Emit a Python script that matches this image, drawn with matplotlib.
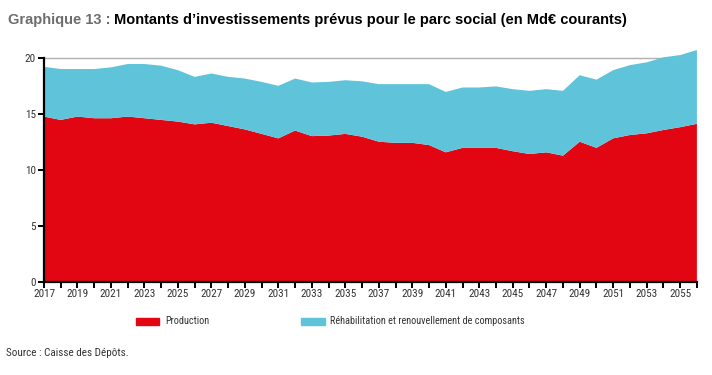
import numpy as np
import matplotlib.pyplot as plt
import matplotlib.patches as mpatches

plt.rcParams['font.family'] = ['Roboto Condensed', 'Archivo Narrow', 'Liberation Sans', 'DejaVu Sans']

years = list(range(2017, 2057))
production = [14.8, 14.5, 14.8, 14.65, 14.65, 14.8, 14.65, 14.5, 14.35, 14.1,
              14.25, 13.95, 13.65, 13.25, 12.85, 13.55, 13.05, 13.1, 13.25, 13.0,
              12.55, 12.45, 12.45, 12.25, 11.6, 12.0, 12.0, 12.0, 11.7, 11.45,
              11.6, 11.3, 12.55, 12.0, 12.85, 13.15, 13.3, 13.6, 13.85, 14.15]
total = [19.25, 19.05, 19.05, 19.05, 19.2, 19.5, 19.5, 19.35, 18.95, 18.35,
         18.65, 18.35, 18.2, 17.9, 17.55, 18.2, 17.85, 17.9, 18.05, 17.95,
         17.7, 17.7, 17.7, 17.7, 17.0, 17.4, 17.4, 17.5, 17.25, 17.1,
         17.25, 17.1, 18.5, 18.1, 18.95, 19.4, 19.65, 20.1, 20.3, 20.75]
rehab = [t - p for t, p in zip(total, production)]
labels = ["Production", "Réhabilitation et renouvellement de composants"]

red = "#E20613"
blue = "#5FC3DA"

fig = plt.figure(figsize=(7.12, 3.75), dpi=100)
ax = fig.add_axes([0.0618, 0.248, 0.917, 0.626])

ax.axhline(20, color="#b0b0b0", lw=1, zorder=0)
ax.stackplot(years, production, rehab, colors=[red, blue], lw=0, zorder=1)

ax.set_xlim(2017, 2056)
ax.set_ylim(0, 21)
ax.set_yticks([0, 5, 10, 15, 20])
ax.set_xticks(range(2017, 2057, 2))
ax.set_xticks(years, minor=True)
for s in ["top", "right"]:
    ax.spines[s].set_visible(False)
ax.spines["left"].set_bounds(0, 20)
ax.spines["left"].set_linewidth(1.6)
ax.spines["bottom"].set_linewidth(1.6)
ax.tick_params(axis="both", which="both", direction="out", width=1.4,
               colors="black", labelcolor="#333333", labelsize=8)
ax.tick_params(axis="x", which="both", length=4, pad=1)
ax.tick_params(axis="y", length=4, pad=2)

title_font = ['Liberation Sans', 'DejaVu Sans']
t1 = fig.text(0.011, 0.936, "Graphique 13 :", fontsize=10.5, fontweight="bold",
              color="#6d6d6d", family=title_font)
fig.canvas.draw()
bb = t1.get_window_extent()
fig.text(bb.x1 / fig.bbox.width + 0.005, 0.936,
         "Montants d\u2019investissements prévus pour le parc social (en Md€ courants)",
         fontsize=10.5, fontweight="bold", color="black", family=title_font)

fig.patches.append(mpatches.Rectangle((0.191, 0.134), 0.033, 0.018, transform=fig.transFigure,
                                      color=red, figure=fig))
fig.text(0.232, 0.143, labels[0], fontsize=7.4, color="#333333", va="center")
fig.patches.append(mpatches.Rectangle((0.423, 0.134), 0.033, 0.018, transform=fig.transFigure,
                                      color=blue, figure=fig))
fig.text(0.464, 0.143, labels[1], fontsize=7.4, color="#333333", va="center")

fig.text(0.008, 0.06, "Source : Caisse des Dépôts.", fontsize=8, color="#333333", va="center")

fig.savefig("out.png", dpi=100)
